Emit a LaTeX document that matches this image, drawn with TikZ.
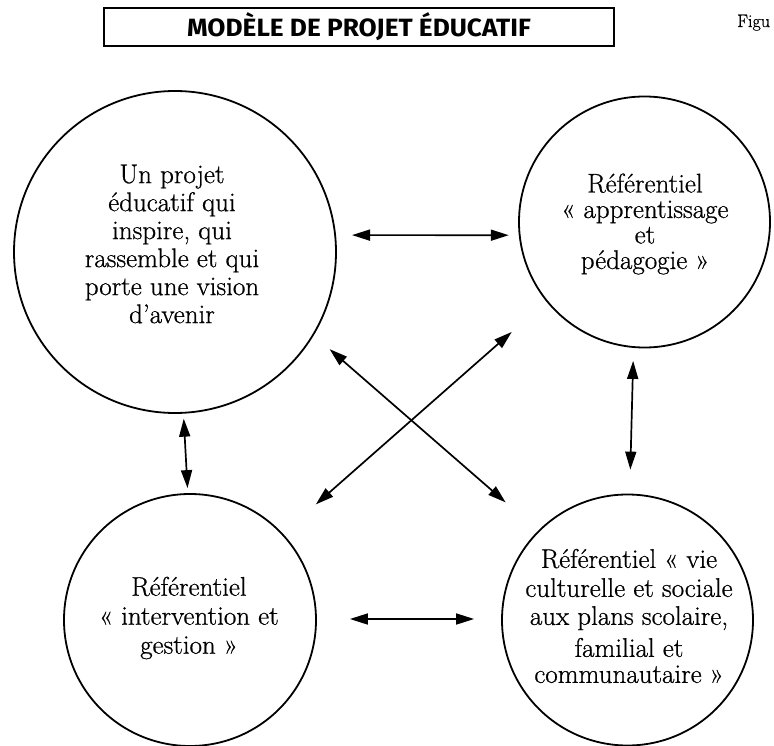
\documentclass[tikz,border=0pt]{standalone}
\usepackage{fontspec}
\setmainfont{Latin Modern Roman}[FakeBold=0.7]
\newfontfamily\titlefont[FakeStretch=1.05]{Fira Sans}
\usetikzlibrary{arrows.meta}
\tikzset{
  ring/.style={circle, draw, line width=1.8pt, inner sep=0pt},
  txt/.style={align=center, inner sep=0pt, font=\fontsize{27}{28}\selectfont},
  arr/.style={{Triangle[length=18pt,width=11pt]}-{Triangle[length=18pt,width=11pt]}, line width=1.7pt},
  titlebox/.style={draw, line width=1.6pt, minimum width=510pt, minimum height=38pt, inner sep=0pt,
    font=\titlefont\bfseries\fontsize{25}{26}\selectfont}
}
\begin{document}
\begin{tikzpicture}[x=1pt,y=1pt]
\useasboundingbox (0,0) rectangle (774,-746);
% title
\node[titlebox] (title) at (359,-27) {MODÈLE DE PROJET ÉDUCATIF};
\node[anchor=base west, inner sep=0pt, font=\fontsize{18}{20}\selectfont] (fig) at (737,-27) {Figu};
% circles
\node[ring, minimum size=322pt] (tl) at (175,-252) {};
\node[ring, minimum size=251pt] (tr) at (644.5,-222) {};
\node[ring, minimum size=252pt] (bl) at (190,-620) {};
\node[ring, minimum size=251pt] (br) at (627.5,-620) {};
% texts
\node[txt] (tltxt) at (172,-244) {Un projet\\éducatif qui\\inspire, qui\\rassemble et qui\\porte une vision\\d’avenir};
\node[txt, font=\fontsize{27}{25.5}\selectfont] (trtxt) at (645,-224) {Référentiel\\ «~apprentissage\\et\\pédagogie~»};
\node[txt, font=\fontsize{27}{29}\selectfont] (bltxt) at (189,-618) {Référentiel\\«~intervention et\\gestion~»};
\node[txt] (brtxt) at (629,-616) {Référentiel «~vie\\[1pt]culturelle et sociale\\aux plans scolaire,\\[4pt]familial et\\[-2pt]communautaire~»};
% connectors
\draw[arr, shorten <=16pt, shorten >=10pt] (tl.6) -- (tr.186.9);
\draw[arr, shorten <=5pt, shorten >=5pt] (tl.-87.5) -- (bl.91.4);
\draw[arr, shorten <=13pt, shorten >=24pt] (tr.-95.3) -- (br.89.3);
\draw[arr, shorten <=21pt, shorten >=43pt] (tl.-31.6) -- (br.135.7);
\draw[arr, shorten <=44pt, shorten >=46pt] (bl.43.1) -- (tr.219.4);
\draw[arr, shorten <=33pt, shorten >=27pt] ([yshift=1pt]bl.east) -- ([yshift=1pt]br.west);
\end{tikzpicture}
\end{document}
